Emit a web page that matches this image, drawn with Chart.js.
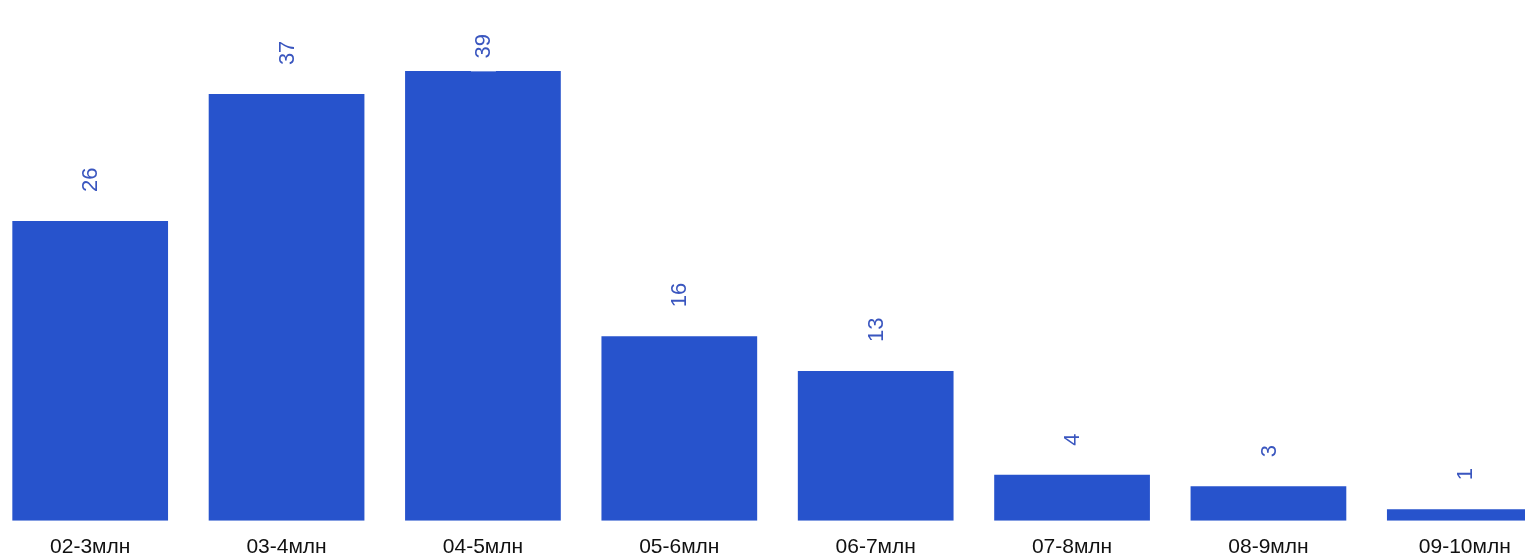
<!DOCTYPE html>
<html>
<head>
<meta charset="utf-8">
<script src="https://cdn.jsdelivr.net/npm/chart.js@4"></script>
<style>
html,body{margin:0;padding:0;background:#fff;overflow:hidden;width:1525px;height:556px;}
#wrap{position:absolute;left:-8px;top:0;width:1571px;height:566px;}
</style>
</head>
<body>
<div id="wrap"><canvas id="c"></canvas></div>
<script>
const categories = ["02-3млн","03-4млн","04-5млн","05-6млн","06-7млн","07-8млн","08-9млн","09-10млн"];
const values = [26, 37, 39, 16, 13, 4, 3, 1];
const yMax = 42.3;

const barLabels = {
  id: 'barLabels',
  afterDatasetsDraw(chart) {
    const ctx = chart.ctx;
    const meta = chart.getDatasetMeta(0);
    const area = chart.chartArea;
    ctx.save();
    ctx.font = '22px "Liberation Sans", Arial, sans-serif';
    ctx.textAlign = 'left';
    ctx.textBaseline = 'middle';
    meta.data.forEach((bar, i) => {
      const txt = String(values[i]);
      const w = ctx.measureText(txt).width;
      let start = bar.y - 29;
      if (start - w < area.top + 1) start = area.top + 1 + w;
      // label background box
      ctx.fillStyle = 'rgba(255,255,255,0.75)';
      ctx.fillRect(bar.x - 12, start - w - 13, 25, w + 26);
      ctx.save();
      ctx.fillStyle = '#3a56bf';
      ctx.translate(bar.x + 1, start);
      ctx.rotate(-Math.PI / 2);
      ctx.fillText(txt, 0, 0);
      ctx.restore();
    });
    ctx.restore();
  }
};

new Chart(document.getElementById('c'), {
  type: 'bar',
  data: {
    labels: categories,
    datasets: [{
      data: values,
      backgroundColor: '#2753cc',
      borderWidth: 0,
      categoryPercentage: 1,
      barPercentage: 0.793
    }]
  },
  options: {
    responsive: true,
    maintainAspectRatio: false,
    animation: false,
    layout: { padding: { top: 33, left: 0, right: 0, bottom: 0 } },
    plugins: { legend: { display: false }, tooltip: { enabled: false } },
    scales: {
      x: {
        grid: { display: false },
        border: { display: false },
        ticks: {
          color: '#111',
          font: { size: 21, family: '"Liberation Sans", Arial, sans-serif' },
          padding: 6,
          maxRotation: 0,
          autoSkip: false
        }
      },
      y: {
        display: false,
        min: 0,
        max: yMax
      }
    }
  },
  plugins: [barLabels]
});
</script>
</body>
</html>
